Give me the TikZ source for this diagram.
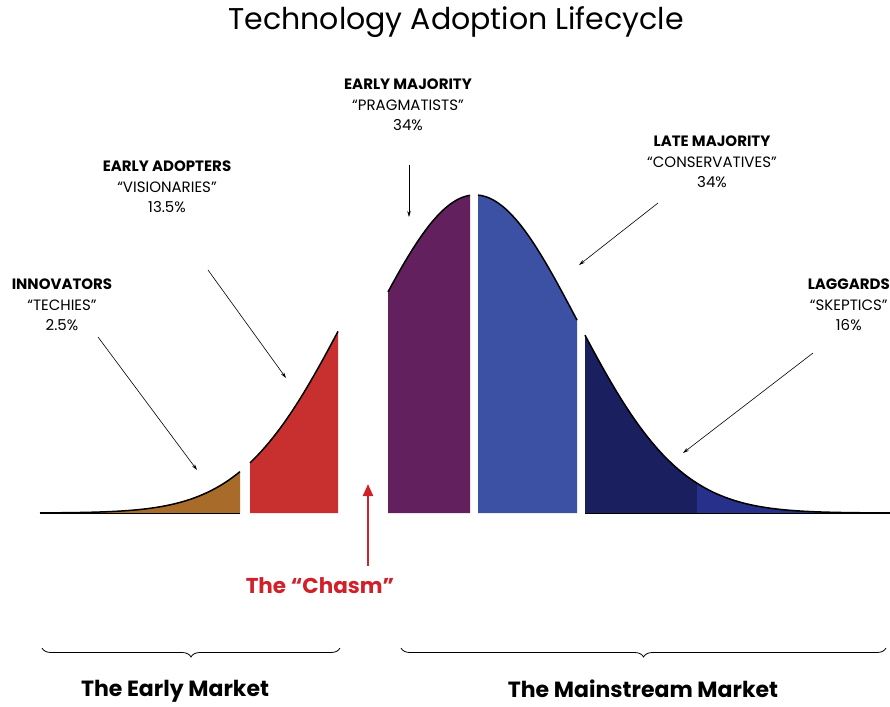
\documentclass[tikz,border=0pt]{standalone}
\usepackage{fontspec}
\setmainfont{Poppins}
\usetikzlibrary{arrows.meta,decorations.pathreplacing}

\definecolor{innocol}{HTML}{A86B29}
\definecolor{adoptcol}{HTML}{C8302F}
\definecolor{earlycol}{HTML}{63205F}
\definecolor{latecol}{HTML}{3C51A3}
\definecolor{lagcol}{HTML}{1A1F60}
\definecolor{tailcol}{HTML}{27308A}
\definecolor{chasmcol}{HTML}{D0202A}

\begin{document}
\begin{tikzpicture}[x=1pt,y=-1pt,
  declare function={bell(\x)=513-318*exp(-0.5*((\x-475)/102)*((\x-475)/102));},
  outline/.style={line width=1.5pt},
  base/.style={line width=0.8pt},
  pointer/.style={-{Stealth[length=6pt,width=3.5pt]},line width=0.6pt},
  group/.style={align=center,inner sep=0pt,font=\fontsize{15}{20.5}\selectfont},
  market/.style={inner sep=0pt,font=\fontsize{22}{26}\selectfont\bfseries},
  brace/.style={decorate,decoration={brace,mirror,amplitude=9pt},line width=0.8pt}]
\useasboundingbox (0,0) rectangle (890,706);

\node[inner sep=0pt,font=\fontsize{30}{34}\selectfont] (title) at (456,22) {Technology Adoption Lifecycle};

% segments of the curve
\fill[innocol] (40,513) -- plot[domain=40:240,samples=50] (\x,{bell(\x+29)}) -- (240,513) -- cycle;
\fill[adoptcol] (250,513) -- plot[domain=250:338,samples=30] (\x,{bell(\x+29)}) -- (338,513) -- cycle;
\fill[earlycol] (388,513) -- plot[domain=388:470,samples=30] (\x,{bell(\x)}) -- (470,513) -- cycle;
\fill[latecol] (478,513) -- plot[domain=478:577,samples=30] (\x,{bell(\x)}) -- (577,513) -- cycle;
\fill[lagcol] (585,513) -- plot[domain=585:697,samples=30] (\x,{bell(\x)}) -- (697,513) -- cycle;
\fill[tailcol] (697,513) -- plot[domain=697:890,samples=40] (\x,{bell(\x)}) -- (890,513) -- cycle;

\draw[outline] plot[domain=40:240,samples=50] (\x,{bell(\x+29)});
\draw[outline] plot[domain=250:338,samples=30] (\x,{bell(\x+29)});
\draw[outline] plot[domain=388:470,samples=30] (\x,{bell(\x)});
\draw[outline] plot[domain=478:577,samples=30] (\x,{bell(\x)});
\draw[outline] plot[domain=585:890,samples=60] (\x,{bell(\x)});
\draw[base] (40,513) -- (240,513);
\draw[base] (585,513) -- (890,513);

% labels
\node[group] (inno) at (62,305) {\textbf{INNOVATORS}\\``TECHIES''\\2.5\%};
\node[group] (adopt) at (167,187) {\textbf{EARLY ADOPTERS}\\``VISIONARIES''\\13.5\%};
\node[group] (early) at (408,105) {\textbf{EARLY MAJORITY}\\``PRAGMATISTS''\\34\%};
\node[group] (late) at (712,162) {\textbf{LATE MAJORITY}\\``CONSERVATIVES''\\34\%};
\node[group,anchor=east] (lag) at (890,305) {\textbf{LAGGARDS}\\``SKEPTICS''\\16\%};

\coordinate (innoFrom) at (98,337);  \coordinate (innoTo) at (197,470);
\coordinate (adoptFrom) at (208,270); \coordinate (adoptTo) at (286,378);
\coordinate (earlyFrom) at (409,165); \coordinate (earlyTo) at (409,217);
\coordinate (lateFrom) at (658,203);  \coordinate (lateTo) at (579,265);
\coordinate (lagFrom) at (813,353);   \coordinate (lagTo) at (683,453);
\draw[pointer] (innoFrom) -- (innoTo);
\draw[pointer] (adoptFrom) -- (adoptTo);
\draw[pointer] (earlyFrom) -- (earlyTo);
\draw[pointer] (lateFrom) -- (lateTo);
\draw[pointer] (lagFrom) -- (lagTo);

% the chasm
\node[inner sep=0pt,text=chasmcol,font=\fontsize{21.5}{24}\selectfont\bfseries] (chasm) at (320,586) {The ``Chasm''};
\coordinate (chasmFrom) at (368,566); \coordinate (chasmTo) at (368,484);
\draw[chasmcol,line width=2.2pt,-{Triangle[length=12pt,width=10pt]}] (chasmFrom) -- (chasmTo);

% markets
\coordinate (earlyL) at (42,648); \coordinate (earlyR) at (340,648);
\coordinate (mainL) at (401,648); \coordinate (mainR) at (886,648);
\draw[brace] (earlyL) -- (earlyR);
\draw[brace] (mainL) -- (mainR);
\node[market] (earlymkt) at (175,691) {The Early Market};
\node[market] (mainmkt) at (643,689) {The Mainstream Market};
\end{tikzpicture}
\end{document}
